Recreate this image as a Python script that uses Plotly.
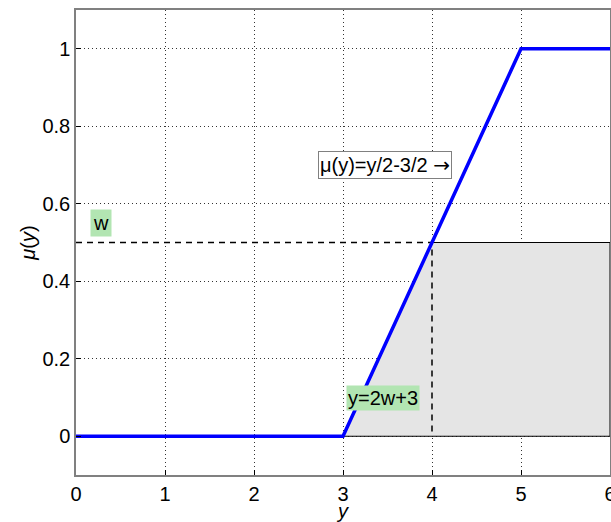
import plotly.graph_objects as go

# membership function
mu_x = [0, 3, 5, 6]
mu_y = [0, 0, 1, 1]

# shaded region (alpha-cut result)
fill_x = [3, 4, 6, 6, 3]
fill_y = [0, 0.5, 0.5, 0, 0]

# dashed guide lines
dash_x = [0, 4, 4]
dash_y = [0.5, 0.5, 0]

x_ticks = [0, 1, 2, 3, 4, 5, 6]
y_ticks = [0, 0.2, 0.4, 0.6, 0.8, 1]
y_tick_text = ["0", "0.2", "0.4", "0.6", "0.8", "1"]

FONT = "Liberation Sans, Arial, sans-serif"
GREEN = "rgb(178,229,178)"
FS = 20

fig = go.Figure()
fig.add_trace(go.Scatter(x=fill_x, y=fill_y, mode="lines", fill="toself",
                         fillcolor="rgb(229,229,229)",
                         line=dict(color="black", width=1), hoverinfo="skip"))
fig.add_trace(go.Scatter(x=dash_x, y=dash_y, mode="lines",
                         line=dict(color="black", width=1.5, dash="6px,5px")))
fig.add_trace(go.Scatter(x=mu_x, y=mu_y, mode="lines",
                         line=dict(color="rgb(0,0,255)", width=3.5)))

fig.add_annotation(x=0.28, y=0.55, text="w", showarrow=False, borderpad=2,
                   bgcolor=GREEN, font=dict(size=FS, color="black", family=FONT))
fig.add_annotation(x=3.45, y=0.098, text="y=2w+3", showarrow=False, borderpad=1,
                   bgcolor=GREEN, font=dict(size=FS, color="black", family=FONT))
fig.add_annotation(x=3.47, y=0.70,
                   text="μ(y)=y/2-3/2 <span style=\"font-family:DejaVu Sans\">→</span>",
                   showarrow=False,
                   bgcolor="white", bordercolor="rgb(128,128,128)", borderwidth=1,
                   borderpad=1,
                   font=dict(size=FS, color="black", family=FONT))

axis_common = dict(showline=True, linecolor="rgb(128,128,128)", linewidth=1.5,
                   mirror=True, ticks="inside", ticklen=5,
                   tickcolor="black", showgrid=True,
                   gridcolor="rgba(0,0,0,0.8)", gridwidth=1, griddash="1px,3px",
                   zeroline=False, ticklabeloverflow="allow", automargin=False,
                   tickfont=dict(size=FS, family=FONT, color="black"))

fig.update_xaxes(range=[0, 6], tickvals=x_ticks, **axis_common,
                 title=dict(text="<i>y</i>", font=dict(size=FS, family=FONT, color="black"),
                            standoff=7))
fig.update_yaxes(range=[-0.1, 1.1], tickvals=y_ticks, ticktext=y_tick_text, **axis_common,
                 title=dict(text="<i>μ</i>(<i>y</i>)", font=dict(size=FS, family=FONT, color="black"),
                            standoff=1))

fig.update_layout(width=611, height=522, showlegend=False,
                  margin=dict(l=76, r=1, t=10, b=47),
                  paper_bgcolor="white", plot_bgcolor="white",
                  font=dict(family=FONT))

fig.write_html("out.html")
